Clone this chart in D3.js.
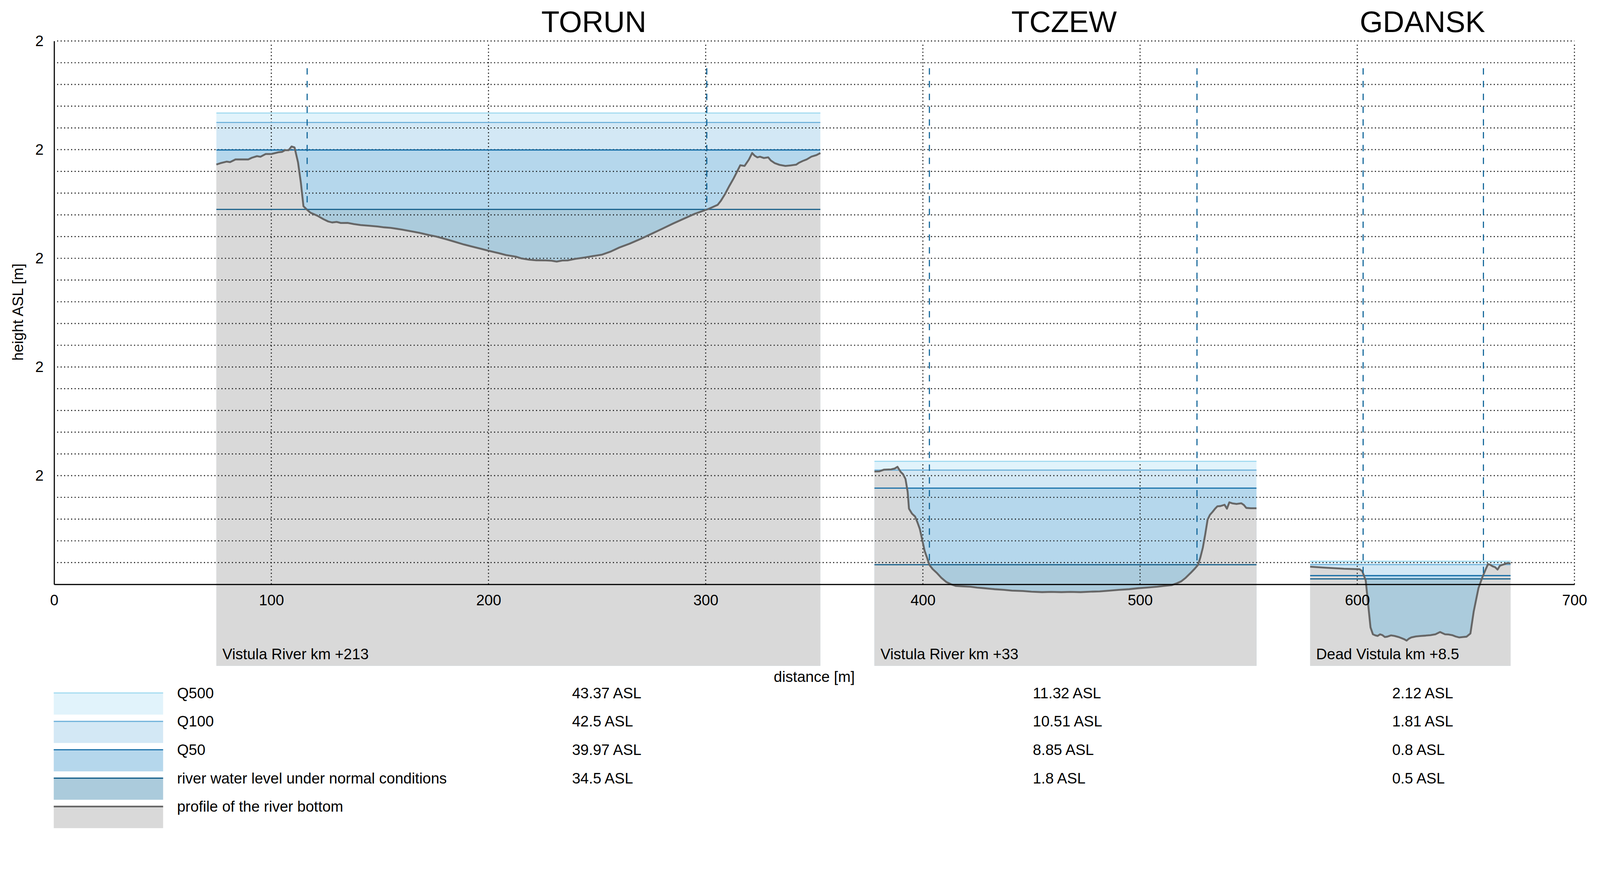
<!DOCTYPE html>
<html>
<head>
<meta charset="utf-8">
<script src="https://cdn.jsdelivr.net/npm/d3@7"></script>
<style>
  html, body { margin: 0; padding: 0; background: #fff; overflow: hidden; }
  svg { display: block; width: 100vw; height: 100vh; font-family: "Liberation Sans", Arial, sans-serif; }
</style>
</head>
<body>
<svg id="chart" viewBox="0 0 4257 2234" preserveAspectRatio="xMinYMin meet"></svg>
<script>
// sites along the river, each drawn in its own box
const siteNames = ["TORUN", "TCZEW", "GDANSK"]
const siteTags = ["Vistula River km +213", "Vistula River km +33", "Dead Vistula km +8.5"]
const titleAt = [248.5, 465, 630]
const boxFrom = [74.7, 377.7, 578.3]
const boxTo = [352.8, 553.6, 670.6]
const boxBottom = -7.5

// water levels [m ASL]
const q500 = [43.37, 11.32, 2.12]
const q100 = [42.5, 10.51, 1.81]
const q50 = [39.97, 8.85, 0.8]
const normal = [34.5, 1.8, 0.5]

// banks (where the normal level meets the bottom)
const bankLeft = [116.5, 403, 602.7]
const bankRight = [300.5, 526.2, 658.1]
const bankTop = 47.5

// profile of the river bottom: [distance, height]
const torunProfile = [[74.7,38.63],[76.5,38.75],[79.5,38.9],[81,38.85],[83.5,39.1],[86,39.1],[89.4,39.1],[91,39.25],[93.4,39.4],[95,39.35],[97.4,39.6],[100,39.6],[103.3,39.76],[105,39.8],[106.3,39.95],[108,39.95],[109.3,40.29],[110.7,40.2],[112.3,38.83],[113.6,36.97],[114.8,34.79],[116.2,34.52],[118,34.2],[121.2,33.92],[124,33.6],[126.2,33.39],[128,33.3],[130.1,33.35],[132,33.25],[135.1,33.26],[138,33.15],[141.1,33.06],[145,33.0],[149,32.93],[152,32.85],[155,32.8],[160,32.65],[164.9,32.47],[168,32.35],[172.9,32.13],[176,32.0],[180.8,31.74],[184,31.55],[188.7,31.27],[192,31.1],[196.7,30.87],[200,30.7],[204.6,30.48],[208,30.3],[212.6,30.15],[215,30.0],[218.5,29.88],[222,29.82],[226.5,29.81],[229,29.78],[231.4,29.7],[234,29.8],[236.4,29.81],[240,29.95],[244.4,30.08],[248,30.2],[252.3,30.34],[256,30.6],[260.3,31.0],[265,31.35],[270.2,31.8],[275,32.25],[280.1,32.73],[285,33.2],[290,33.65],[295,34.1],[301,34.52],[305.5,34.92],[307,35.3],[308.9,35.91],[311,36.7],[312.9,37.37],[314.5,38.0],[315.9,38.56],[317.9,38.5],[319.9,39.09],[321.4,39.69],[322.5,39.45],[323.8,39.29],[325,39.35],[326.8,39.23],[328.8,39.29],[330,39.0],[331.8,38.76],[334,38.6],[336.7,38.5],[339,38.55],[341.7,38.62],[343,38.8],[344.7,38.96],[346.5,39.1],[348.7,39.36],[351,39.5],[352.8,39.69]]
const tczewProfile = [[377.7,10.38],[380,10.4],[382.1,10.55],[385.4,10.58],[387,10.65],[388.3,10.81],[389.8,10.34],[390.9,10.12],[392,9.69],[393,8.5],[393.6,6.96],[395,6.5],[396.4,6.24],[397.5,5.7],[398.6,5.09],[399.8,4.0],[400.8,3.08],[402,2.4],[403,1.79],[404.5,1.4],[406.3,1.07],[408.5,0.6],[410.8,0.21],[413,0.0],[415.2,-0.15],[418,-0.18],[421.8,-0.22],[425,-0.3],[428.4,-0.36],[433,-0.45],[437.3,-0.51],[441,-0.58],[446.1,-0.62],[450,-0.68],[454.9,-0.72],[459,-0.7],[463.8,-0.72],[468,-0.7],[472.6,-0.72],[477,-0.68],[481.4,-0.65],[486,-0.58],[490.3,-0.51],[495,-0.45],[499.1,-0.36],[503,-0.3],[507.9,-0.22],[511,-0.15],[514.5,-0.08],[517,0.1],[519,0.28],[521,0.6],[523.4,1.07],[525,1.4],[526.7,1.79],[527.8,2.5],[528.9,3.37],[530,4.6],[531.1,5.96],[532.2,6.4],[533.4,6.67],[534.5,6.95],[535.6,7.18],[537,7.2],[538.9,7.32],[540,6.96],[541.1,7.54],[542.5,7.45],[544.4,7.39],[546.6,7.46],[547.8,7.3],[548.9,7.03],[551,7.0],[553.6,7.0]]
const gdanskProfile = [[578.3,1.62],[585.1,1.53],[593.9,1.43],[601,1.39],[602.3,1.21],[603.9,0.35],[605,-1.8],[606.1,-3.96],[607.2,-4.6],[608.3,-4.7],[609.4,-4.75],[610.5,-4.6],[611.6,-4.68],[612.7,-4.85],[613.8,-4.82],[615.5,-4.7],[617.2,-4.75],[619,-4.85],[620.5,-4.96],[621.6,-5.05],[622.7,-5.18],[623.8,-5.0],[624.9,-4.89],[627,-4.8],[629.3,-4.75],[631.5,-4.72],[633.7,-4.68],[636,-4.6],[638.1,-4.39],[639.3,-4.5],[640.4,-4.6],[642,-4.62],[643.7,-4.68],[645.3,-4.8],[647,-4.89],[648.7,-4.85],[650.3,-4.82],[652.1,-4.53],[653.6,-2.52],[655.8,-0.36],[657.6,0.64],[659.1,1.36],[660.2,1.86],[661.3,1.79],[662.4,1.65],[663.5,1.57],[664.6,1.36],[665.7,1.72],[667.9,1.86],[669,1.95],[670.6,1.93]]
const profiles = [torunProfile, tczewProfile, gdanskProfile]

// axes
const xTicks = [0, 100, 200, 300, 400, 500, 600, 700]
const yTicks = [10, 20, 30, 40, 50]
const yTickLabels = ["2", "2", "2", "2", "2"]
const yGrid = d3.range(2, 51, 2)

// legend
const legendLabels = ["Q500", "Q100", "Q50", "river water level under normal conditions", "profile of the river bottom"]
const legendValues = [q500, q100, q50, normal]

const bandFill = ["#e1f3fb", "#d3e8f5", "#b5d7ec", "#abcbdc", "#d9d9d9"]
const lineColor = ["#a3dbf0", "#6cb0da", "#0b68a4", "#0a5784", "#666666"]

const svg = d3.select('#chart')
const x = d3.scaleLinear().domain([0, 700]).range([144, 4189])
const y = d3.scaleLinear().domain([0, 50]).range([1554, 109])

const sites = siteNames.map((name, i) => ({
  name, tag: siteTags[i], x0: boxFrom[i], x1: boxTo[i],
  levels: [q500[i], q100[i], q50[i], normal[i]],
  profile: profiles[i], bankL: bankLeft[i], bankR: bankRight[i]
}))

// water bands, then the ground over them
const siteG = svg.append('g').attr('class', 'sites')
sites.forEach(s => {
  const g = siteG.append('g')
  const tops = s.levels
  const bottoms = [s.levels[1], s.levels[2], s.levels[3], boxBottom]
  g.selectAll('rect.band')
    .data(tops)
    .enter()
    .append('rect')
    .classed('band', true)
    .attr('x', x(s.x0))
    .attr('width', x(s.x1) - x(s.x0))
    .attr('y', d => y(d))
    .attr('height', (d, i) => y(bottoms[i]) - y(d))
    .attr('fill', (d, i) => bandFill[i])

  const area = d3.area()
    .x(d => x(d[0]))
    .y0(y(boxBottom))
    .y1(d => y(d[1]))
  g.append('path')
    .datum(s.profile)
    .attr('d', area)
    .attr('fill', bandFill[4])
})

// dotted grid
const grid = svg.append('g').attr('class', 'grid')
grid.selectAll('line.h')
  .data(yGrid)
  .enter()
  .append('line')
  .attr('x1', x(0) + 8)
  .attr('x2', x(700))
  .attr('y1', d => y(d))
  .attr('y2', d => y(d))
  .attr('stroke', '#111')
  .attr('stroke-width', 2.8)
  .attr('stroke-dasharray', '2.8,6.5')
grid.selectAll('line.v')
  .data(xTicks.slice(1))
  .enter()
  .append('line')
  .attr('x1', d => x(d))
  .attr('x2', d => x(d))
  .attr('y1', y(50) + 10)
  .attr('y2', y(0))
  .attr('stroke', '#111')
  .attr('stroke-width', 2.8)
  .attr('stroke-dasharray', '2.8,6.5')

// levels, profile, banks, labels
const lineG = svg.append('g').attr('class', 'lines')
sites.forEach(s => {
  const g = lineG.append('g')
  g.selectAll('line.level')
    .data(s.levels)
    .enter()
    .append('line')
    .attr('x1', x(s.x0))
    .attr('x2', x(s.x1))
    .attr('y1', d => y(d))
    .attr('y2', d => y(d))
    .attr('stroke', (d, i) => lineColor[i])
    .attr('stroke-width', 3)

  g.append('path')
    .datum(s.profile)
    .attr('d', d3.line().x(d => x(d[0])).y(d => y(d[1])))
    .attr('fill', 'none')
    .attr('stroke', lineColor[4])
    .attr('stroke-width', 5)
    .attr('stroke-linejoin', 'round')

  g.selectAll('line.bank')
    .data([s.bankL, s.bankR])
    .enter()
    .append('line')
    .attr('x1', d => x(d))
    .attr('x2', d => x(d))
    .attr('y1', y(bankTop))
    .attr('y2', y(s.levels[3]))
    .attr('stroke', '#13679a')
    .attr('stroke-width', 3)
    .attr('stroke-dasharray', '17,17')

  g.append('text')
    .attr('x', x(s.x0) + 16)
    .attr('y', 1753)
    .attr('font-size', 40)
    .attr('fill', '#000')
    .text(s.tag)
})

// titles
svg.selectAll('text.title')
  .data(siteNames)
  .enter()
  .append('text')
  .attr('class', 'title')
  .attr('x', (d, i) => x(titleAt[i]))
  .attr('y', 85)
  .attr('text-anchor', 'middle')
  .attr('font-size', 79)
  .text(d => d)

// axes
const xAxis = svg.append('g')
  .attr('transform', `translate(0,${y(0)})`)
  .call(d3.axisBottom(x).tickValues(xTicks).tickSize(0).tickPadding(27.5).tickFormat(d3.format('d')))
const yAxis = svg.append('g')
  .attr('transform', `translate(${x(0)},0)`)
  .call(d3.axisLeft(y).tickValues(yTicks).tickSize(0).tickPadding(28).tickFormat((d, i) => yTickLabels[i]))
;[xAxis, yAxis].forEach(a => {
  a.select('.domain').attr('stroke', '#000').attr('stroke-width', 3)
  a.selectAll('text').attr('font-size', 40).attr('font-family', '"Liberation Sans", Arial, sans-serif').attr('fill', '#000')
})

svg.append('text')
  .attr('x', (x(0) + x(700)) / 2)
  .attr('y', 1814)
  .attr('text-anchor', 'middle')
  .attr('font-size', 40)
  .text('distance [m]')

svg.append('text')
  .attr('transform', `translate(61,830) rotate(-90)`)
  .attr('text-anchor', 'middle')
  .attr('font-size', 40)
  .text('height ASL [m]')

// legend
const legTop = 1843, legStep = 75.5, legH = 57.5
const legend = svg.append('g').attr('class', 'legend')
legendLabels.forEach((label, i) => {
  const ly = legTop + i * legStep
  legend.append('rect')
    .attr('x', 143).attr('y', ly)
    .attr('width', 291).attr('height', legH)
    .attr('fill', bandFill[i])
  legend.append('line')
    .attr('x1', 143).attr('x2', 434)
    .attr('y1', ly).attr('y2', ly)
    .attr('stroke', lineColor[i])
    .attr('stroke-width', i === 4 ? 4.5 : 3)
  legend.append('text')
    .attr('x', 471).attr('y', ly + 14)
    .attr('font-size', 40)
    .text(label)
})
const valueCols = [1522, 2748, 3704]
legendValues.forEach((vals, i) => {
  legend.selectAll(null)
    .data(vals)
    .enter()
    .append('text')
    .attr('x', (d, j) => valueCols[j])
    .attr('y', legTop + i * legStep + 14)
    .attr('font-size', 40)
    .text(d => `${d} ASL`)
})
</script>
</body>
</html>
